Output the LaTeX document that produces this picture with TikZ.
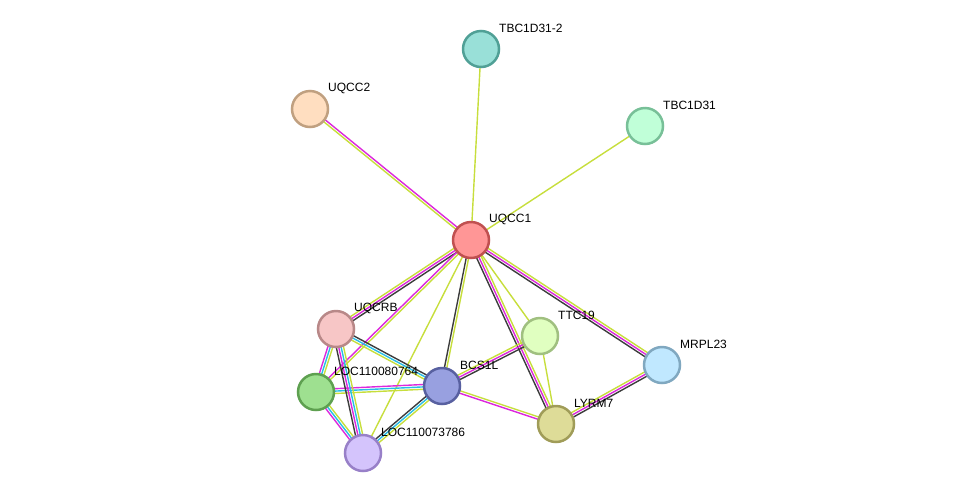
\documentclass[tikz,border=0pt]{standalone}
\usepackage{fontspec}
\setmainfont{Liberation Sans}
\usetikzlibrary{calc}
\pgfdeclarelayer{background}
\pgfsetlayers{background,main}
\definecolor{tm}{RGB}{199,222,60}
\definecolor{ex}{RGB}{220,40,220}
\definecolor{db}{RGB}{40,190,230}
\definecolor{co}{RGB}{60,60,60}
\tikzset{
  prot/.style={circle,minimum size=36pt,inner sep=0pt,line width=2.5pt},
  lbl/.style={anchor=west,inner sep=0pt,font=\fontsize{12}{14}\selectfont},
  ln/.style={line width=1.4pt}
}
\newcommand\sedge[4]{%
  \foreach \c [count=\i] in {#4}{%
    \pgfmathsetmacro\off{(\i-(#3+1)/2)*2.4}%
    \draw[ln,\c] ($(#1)!\off pt!90:(#2)$) -- ($(#2)!\off pt!-90:(#1)$);}}
\begin{document}
\begin{tikzpicture}[x=1pt,y=-1pt]
\useasboundingbox (0,0) rectangle (976,499);
\node[prot,draw={rgb,255:red,192;green,80;blue,80},fill={rgb,255:red,255;green,150;blue,150}] (uqcc1) at (471,240) {};
\node[prot,draw={rgb,255:red,80;green,160;blue,150},fill={rgb,255:red,153;green,224;blue,216}] (tbc2) at (481,49) {};
\node[prot,draw={rgb,255:red,192;green,160;blue,128},fill={rgb,255:red,255;green,222;blue,192}] (uqcc2) at (310,109) {};
\node[prot,draw={rgb,255:red,120;green,192;blue,152},fill={rgb,255:red,192;green,255;blue,216}] (tbc1) at (645,126) {};
\node[prot,draw={rgb,255:red,184;green,136;blue,136},fill={rgb,255:red,247;green,198;blue,198}] (uqcrb) at (336,329) {};
\node[prot,draw={rgb,255:red,160;green,192;blue,128},fill={rgb,255:red,224;green,255;blue,192}] (ttc19) at (540,336) {};
\node[prot,draw={rgb,255:red,128;green,168;blue,192},fill={rgb,255:red,192;green,232;blue,255}] (mrpl23) at (662,365) {};
\node[prot,draw={rgb,255:red,88;green,96;blue,160},fill={rgb,255:red,152;green,160;blue,224}] (bcs1l) at (442,386) {};
\node[prot,draw={rgb,255:red,94;green,160;blue,80},fill={rgb,255:red,158;green,224;blue,144}] (loc764) at (316,392) {};
\node[prot,draw={rgb,255:red,160;green,156;blue,88},fill={rgb,255:red,222;green,220;blue,152}] (lyrm7) at (556,424) {};
\node[prot,draw={rgb,255:red,152;green,128;blue,200},fill={rgb,255:red,212;green,196;blue,252}] (loc786) at (363,453) {};
\begin{pgfonlayer}{background}
\sedge{uqcc1}{tbc2}{1}{tm}
\sedge{uqcc1}{uqcc2}{2}{ex,tm}
\sedge{uqcc1}{tbc1}{1}{tm}
\sedge{uqcc1}{uqcrb}{3}{tm,ex,co}
\sedge{uqcc1}{loc764}{2}{ex,tm}
\sedge{uqcc1}{loc786}{1}{tm}
\sedge{uqcc1}{bcs1l}{2}{co,tm}
\sedge{uqcc1}{ttc19}{1}{tm}
\sedge{uqcc1}{lyrm7}{3}{co,ex,tm}
\sedge{uqcc1}{mrpl23}{3}{co,ex,tm}
\sedge{ttc19}{bcs1l}{3}{tm,ex,co}
\sedge{ttc19}{lyrm7}{1}{tm}
\sedge{mrpl23}{lyrm7}{3}{tm,ex,co}
\sedge{bcs1l}{lyrm7}{2}{ex,tm}
\sedge{bcs1l}{loc764}{3}{ex,db,tm}
\sedge{bcs1l}{loc786}{3}{co,db,tm}
\sedge{bcs1l}{uqcrb}{3}{co,db,tm}
\sedge{uqcrb}{loc764}{3}{ex,db,tm}
\sedge{uqcrb}{loc786}{4}{co,ex,db,tm}
\sedge{loc764}{loc786}{3}{ex,db,tm}
\end{pgfonlayer}
\node[lbl] (l1) at ($(uqcc1)+(18,-21)$) {UQCC1};
\node[lbl] (l2) at ($(tbc2)+(18,-21)$) {TBC1D31-2};
\node[lbl] (l3) at ($(uqcc2)+(18,-21)$) {UQCC2};
\node[lbl] (l4) at ($(tbc1)+(18,-21)$) {TBC1D31};
\node[lbl] (l5) at ($(uqcrb)+(18,-21)$) {UQCRB};
\node[lbl] (l6) at ($(ttc19)+(18,-21)$) {TTC19};
\node[lbl] (l7) at ($(mrpl23)+(18,-21)$) {MRPL23};
\node[lbl] (l8) at ($(bcs1l)+(18,-21)$) {BCS1L};
\node[lbl] (l9) at ($(loc764)+(18,-21)$) {LOC110080764};
\node[lbl] (l10) at ($(lyrm7)+(18,-21)$) {LYRM7};
\node[lbl] (l11) at ($(loc786)+(18,-21)$) {LOC110073786};
\end{tikzpicture}
\end{document}
